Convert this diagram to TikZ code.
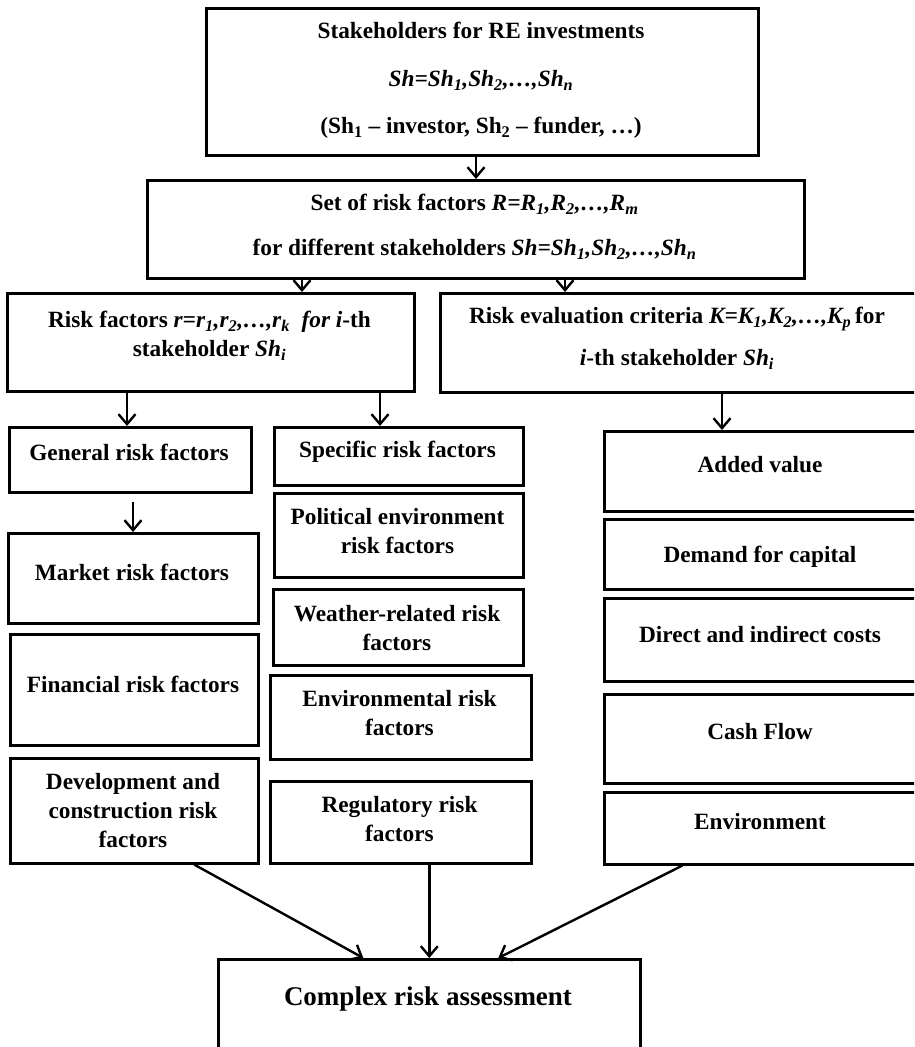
\documentclass[tikz,border=0pt]{standalone}
\usepackage{fontspec}
\setmainfont{Liberation Serif}
\usetikzlibrary{arrows.meta}

\tikzset{
  box/.style={draw=black, line width=2.6pt, inner sep=0pt, anchor=north west},
  txt/.style={font=\fontsize{23.3}{29}\selectfont\bfseries, align=center, inner sep=0pt},
  arr/.style={line width=2.4pt, -{Straight Barb[length=10pt,width=17pt,line width=2.4pt]}},
}
% box from its top-left corner (x1,y1) to its bottom-right corner (x2,y2)
\newcommand\rbox[5]{\node[box, minimum width={(#4-#2)*1pt}, minimum height={(#5-#3)*1pt}] (#1) at (#2,#3) {};}

\begin{document}
\begin{tikzpicture}[x=1pt, y=-1pt]
\clip (0,0) rectangle (914,1047);
\fill[white] (0,0) rectangle (914,1047);

% top levels
\rbox{sh}{205}{7}{757}{154}
\rbox{set}{146}{179}{803}{277}
\rbox{rf}{6}{292}{413}{390}
\rbox{rec}{439}{292}{918}{391}

% left column
\rbox{gen}{8}{426}{250}{491}
\rbox{mkt}{7}{532}{257}{622}
\rbox{fin}{9}{633}{257}{744}
\rbox{dev}{9}{757}{257}{862}

% middle column
\rbox{spc}{273}{426}{522}{484}
\rbox{pol}{273}{492}{522}{576}
\rbox{wea}{272}{588}{522}{664}
\rbox{env}{269}{674}{530}{758}
\rbox{reg}{269}{780}{530}{862}

% right column
\rbox{add}{603}{430}{918}{510}
\rbox{dem}{603}{518}{918}{588}
\rbox{dir}{603}{597}{918}{680}
\rbox{csh}{603}{693}{918}{782}
\rbox{enm}{603}{791}{918}{863}

% result
\rbox{cra}{217}{958}{639}{1080}

% texts
\node[txt] (tsh) at (481,80.5) {Stakeholders for RE investments\\[19pt]
  \itshape Sh=Sh\textsubscript{1},Sh\textsubscript{2},…,Sh\textsubscript{n}\\[18pt]
  (Sh\textsubscript{1} – investor, Sh\textsubscript{2} – funder, …)};
\node[txt] (tset) at (474.5,226.5) {Set of risk factors \textit{R=R\textsubscript{1},R\textsubscript{2},…,R\textsubscript{m}}\\[16pt]
  for different stakeholders \textit{Sh=Sh\textsubscript{1},Sh\textsubscript{2},…,Sh\textsubscript{n}}};
\node[txt] (trf) at (209.5,336) {Risk factors \textit{r=r\textsubscript{1},r\textsubscript{2},…,r\textsubscript{k}\ \ for i}-th\\
  stakeholder \textit{Sh\textsubscript{i}}};
\node[txt] (trec) at (677,338) {Risk evaluation criteria \textit{K=K\textsubscript{1},K\textsubscript{2},…,K\textsubscript{p}}\,for\\[13pt]
  \textit{i}-th stakeholder \textit{Sh\textsubscript{i}}};

\node[txt] (tgen) at (129,452) {General risk factors};
\node[txt] (tmkt) at (132,572) {Market risk factors};
\node[txt] (tfin) at (133,684) {Financial risk factors};
\node[txt] (tdev) at (133,811) {Development and\\construction risk\\factors};

\node[txt] (tspc) at (397.5,452) {Specific risk factors};
\node[txt] (tpol) at (397.5,531) {Political environment\\risk factors};
\node[txt] (twea) at (397,628.5) {Weather-related risk\\factors};
\node[txt] (tenv) at (399.5,713.5) {Environmental risk\\factors};
\node[txt] (treg) at (399.5,819.5) {Regulatory risk\\factors};

\node[txt] (tadd) at (760,465) {Added value};
\node[txt] (tdem) at (760,557) {Demand for capital};
\node[txt] (tdir) at (760,635) {Direct and indirect costs};
\node[txt] (tcsh) at (760,732) {Cash Flow};
\node[txt] (tenm) at (760,822) {Environment};

\node[txt, font=\fontsize{27}{32}\selectfont\bfseries] (tcra) at (428,999) {Complex risk assessment};

% x positions of the vertical connectors
\coordinate (xa) at (476,0);
\coordinate (xb) at (302,0);
\coordinate (xc) at (565,0);
\coordinate (xd) at (127,0);
\coordinate (xe) at (380,0);
\coordinate (xf) at (722,0);
\coordinate (xg) at (133,0);

\draw[arr] (sh.south -| xa) -- (set.north -| xa);
\draw[arr] (set.south -| xb) -- (rf.north -| xb);
\draw[arr] (set.south -| xc) -- (rec.north -| xc);
\draw[arr] (rf.south -| xd) -- (gen.north -| xd);
\draw[arr] (rf.south -| xe) -- (spc.north -| xe);
\draw[arr] (rec.south -| xf) -- (add.north -| xf);
\draw[arr] ([yshift=-8pt]gen.south -| xg) -- (mkt.north -| xg);

\draw[arr] ([xshift=60pt]dev.south) -- ([xshift=-66pt]cra.north);
\draw[arr] ([xshift=28.5pt]reg.south) -- (cra.north);
\draw[arr] ([xshift=-79.5pt]enm.south) -- ([xshift=69pt]cra.north);
\end{tikzpicture}
\end{document}
